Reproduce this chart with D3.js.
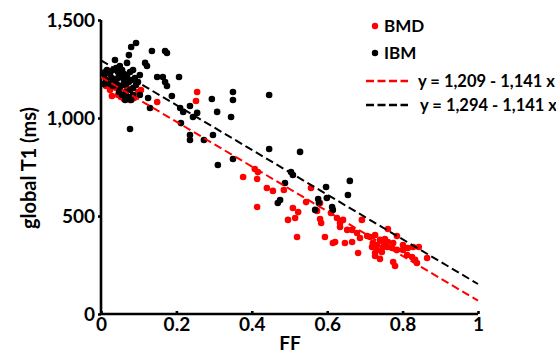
<!DOCTYPE html>
<html>
<head>
<meta charset="utf-8">
<script src="https://cdn.jsdelivr.net/npm/d3@7"></script>
<style>
  body { margin: 0; background: #fff; }
  svg { font-family: Lato, "Open Sans", sans-serif; font-weight: bold; }
</style>
</head>
<body>
<svg id="chart" width="556" height="354"></svg>
<script>
// [FF, global T1 (ms)]
const bmdPoints = [
  [0.032,1184],[0.040,1153],[0.045,1117],[0.053,1107],[0.061,1097],[0.024,1143],[0.029,1112],
  [0.077,1092],[0.088,1102],[0.069,1153],[0.098,1133],[0.106,1143],[0.019,1194],[0.013,1163],
  [0.149,1082],[0.255,1133],[0.252,1087],
  [0.377,699],[0.408,740],[0.416,724],[0.414,689],[0.440,643],[0.456,628],[0.485,633],[0.414,546],
  [0.496,480],[0.515,490],[0.523,520],[0.509,541],[0.520,393],[0.544,571],[0.557,643],[0.581,566],
  [0.573,526],[0.581,485],[0.584,464],[0.594,393],[0.615,362],[0.621,367],[0.610,515],[0.626,490],
  [0.634,464],[0.642,480],[0.653,429],[0.634,444],[0.666,429],[0.647,362],[0.666,367],[0.679,413],
  [0.687,388],[0.682,311],[0.706,398],[0.721,362],[0.727,311],[0.692,480],[0.714,393],[0.740,378],
  [0.753,367],[0.719,342],[0.732,327],[0.745,316],[0.759,342],[0.761,434],[0.727,403],[0.753,383],
  [0.761,367],[0.775,362],[0.785,398],[0.732,352],[0.748,342],[0.772,337],[0.785,327],[0.801,352],
  [0.801,327],[0.814,337],[0.828,342],[0.843,342],[0.727,296],[0.740,281],[0.775,265],[0.780,245],
  [0.812,301],[0.825,291],[0.833,276],[0.838,260],[0.865,286]
];
const ibmPoints = [
  [0.093,1383],[0.080,1362],[0.074,1321],[0.135,1342],[0.170,1342],[0.175,1332],[0.117,1281],
  [0.122,1265],[0.069,1281],[0.037,1296],[0.016,1245],[0.011,1235],[0.013,1194],[0.149,1209],
  [0.164,1209],[0.170,1184],[0.175,1163],[0.207,1209],[0.188,1112],[0.103,1219],[0.294,1097],
  [0.125,1102],[0.130,1051],[0.210,1051],[0.218,1031],[0.236,1061],[0.255,1026],[0.244,1005],
  [0.212,974],[0.077,944],[0.236,913],[0.236,888],[0.273,888],[0.297,913],[0.350,1133],[0.350,1092],
  [0.446,1117],[0.308,1031],[0.345,1005],[0.446,842],[0.528,827],[0.350,791],[0.310,760],
  [0.504,724],[0.509,709],[0.488,668],[0.597,648],[0.660,679],[0.655,607],[0.475,582],[0.469,566],
  [0.576,587],[0.578,566],[0.599,592],[0.568,531],[0.613,546],[0.615,531],
  [0.024,1224],[0.032,1245],[0.040,1255],[0.045,1235],[0.050,1265],[0.056,1245],[0.061,1224],
  [0.029,1204],[0.037,1194],[0.045,1204],[0.053,1209],[0.061,1194],[0.069,1214],[0.077,1235],
  [0.085,1245],[0.024,1173],[0.032,1163],[0.042,1173],[0.050,1153],[0.058,1168],[0.066,1173],
  [0.074,1184],[0.082,1194],[0.090,1204],[0.048,1133],[0.056,1117],[0.066,1133],[0.077,1143],
  [0.085,1153],[0.093,1168],[0.098,1184],[0.072,1107],[0.085,1117],[0.080,1092],[0.064,1092],
  [0.103,1117],[0.008,1214],[0.008,1173]
];
// linear fits: T1 = intercept + slope * FF
const fitNames = ["y = 1,209 - 1,141 x", "y = 1,294 - 1,141 x"];
const fitIntercepts = [1209, 1294];
const fitSlopes = [-1141, -1141];
const fitColors = ["#ff0000", "#000000"];
const xTicks = [0, 0.2, 0.4, 0.6, 0.8, 1];
const yTicks = [0, 500, 1000, 1500];

const svg = d3.select("#chart");
const x = d3.scaleLinear().domain([0, 1]).range([101, 478]);
const y = d3.scaleLinear().domain([0, 1500]).range([314, 20]);

// axes
const xAxis = svg.append("g").attr("transform", "translate(0,314)")
  .call(d3.axisBottom(x).tickValues(xTicks).tickSize(-3).tickPadding(6)
    .tickFormat(d => d === 0 || d === 1 ? d3.format("d")(d) : d3.format(".1f")(d)));
const yAxis = svg.append("g").attr("transform", "translate(101,0)")
  .call(d3.axisLeft(y).tickValues(yTicks).tickSize(3).tickPadding(3).tickFormat(d3.format(",")));
[xAxis, yAxis].forEach(a => {
  a.select(".domain").attr("stroke", "#000").attr("stroke-width", 2.6);
  a.selectAll(".tick line").attr("stroke", "#000").attr("stroke-width", 2.6);
  a.selectAll(".tick text").attr("fill", "#000").attr("font-size", 19)
    .attr("font-family", "Lato, sans-serif").attr("font-weight", "bold");
});
xAxis.select(".domain").attr("d", "M101,0H478");
yAxis.select(".domain").attr("d", "M0,314V20");
xAxis.selectAll(".tick text").attr("dy", "0.6em");

svg.append("text").attr("x", 290).attr("y", 350).attr("text-anchor", "middle")
  .attr("font-size", 19).text("FF");
svg.append("text").attr("transform", "translate(36,168) rotate(-90)")
  .attr("text-anchor", "middle").attr("font-size", 20).text("global T1 (ms)");

// points
svg.append("g").selectAll("circle").data(bmdPoints).join("circle")
  .attr("cx", d => x(d[0])).attr("cy", d => y(d[1])).attr("r", 3.3).attr("fill", "#ff0000");
svg.append("g").selectAll("circle").data(ibmPoints).join("circle")
  .attr("cx", d => x(d[0])).attr("cy", d => y(d[1])).attr("r", 3.3).attr("fill", "#000");

// fit lines
fitIntercepts.forEach((b, i) => {
  svg.append("line")
    .attr("x1", x(0)).attr("y1", y(b))
    .attr("x2", x(1)).attr("y2", y(b + fitSlopes[i]))
    .attr("stroke", fitColors[i]).attr("stroke-width", 2).attr("stroke-dasharray", "8,4");
});

// legend
const legend = svg.append("g").attr("font-size", 17);
[["BMD", "#ff0000", 26], ["IBM", "#000", 53]].forEach(([name, c, ly]) => {
  legend.append("circle").attr("cx", 375).attr("cy", ly).attr("r", 3.2).attr("fill", c);
  legend.append("text").attr("x", 384).attr("y", ly).attr("dy", "0.35em").text(name);
});
fitNames.forEach((name, i) => {
  const ly = 81 + i * 24;
  legend.append("line").attr("x1", 366).attr("x2", 408).attr("y1", ly).attr("y2", ly)
    .attr("stroke", fitColors[i]).attr("stroke-width", 2.6).attr("stroke-dasharray", "8,3.5");
  legend.append("text").attr("x", 418 + i * 2).attr("y", ly).attr("dy", "0.35em")
    .attr("font-size", 16.5).text(name);
});
</script>
</body>
</html>
